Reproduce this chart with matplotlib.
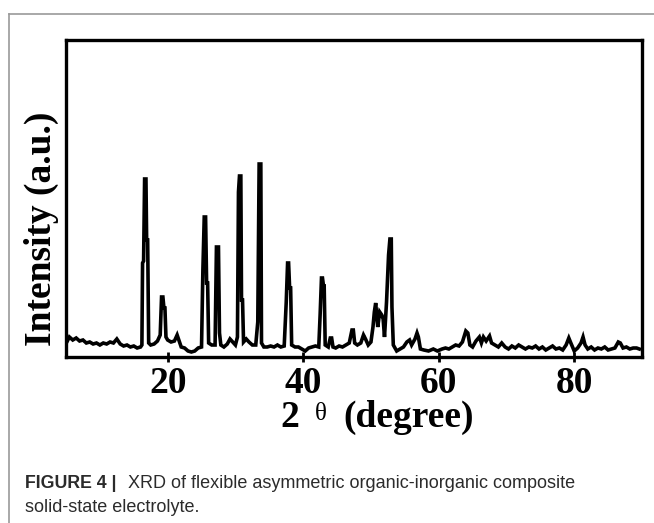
import matplotlib
matplotlib.use('Agg')
import matplotlib.pyplot as plt
from matplotlib.lines import Line2D
import numpy as np

# XRD pattern (intensity in arbitrary units)
two_theta = [5.2, 5.5, 6.0, 6.5, 7.0, 7.5, 8.0, 8.5, 9.0, 9.5, 10.0, 10.5, 11.0, 11.5,
             12.0, 12.5, 13.0, 13.5, 14.0, 14.5, 15.0, 15.5, 16.0, 16.2,
             16.3, 16.45, 16.6, 16.8, 16.9, 17.05, 17.2, 17.5, 18.0, 18.5, 18.9,
             19.1, 19.3, 19.45, 19.6, 19.75, 20.0, 20.5, 21.0, 21.4, 21.7, 22.0,
             22.5, 23.0, 23.5, 24.0, 24.5, 25.0, 25.2, 25.4, 25.6, 25.75, 25.9,
             26.05, 26.5, 27.0, 27.2, 27.5, 27.65, 27.85, 28.3, 28.8, 29.2, 29.6,
             30.0, 30.3, 30.45, 30.6, 30.8, 30.9, 31.05, 31.2, 31.6, 32.0, 32.5,
             33.0, 33.3, 33.5, 33.75, 33.85, 34.2, 34.7, 35.2, 35.7, 36.2, 36.7,
             37.2, 37.5, 37.7, 37.85, 38.0, 38.15, 38.3, 38.8, 39.3, 39.8, 40.3,
             40.8, 41.3, 41.8, 42.3, 42.5, 42.7, 42.85, 43.0, 43.1, 43.25, 43.7,
             44.0, 44.2, 44.4, 44.8, 45.3, 45.8, 46.3, 46.8, 47.2, 47.4, 47.6,
             48.0, 48.5, 48.9, 49.2, 49.6, 50.0, 50.3, 50.5, 50.7, 51.0, 51.3,
             51.6, 51.8, 52.0, 52.3, 52.6, 52.8, 53.0, 53.1, 53.3, 53.8, 54.3,
             54.8, 55.3, 55.7, 56.0, 56.5, 56.8, 57.0, 57.3, 57.8, 58.5, 59.2,
             59.8, 60.5, 61.0, 61.5, 62.0, 62.5, 63.0, 63.5, 64.0, 64.3, 64.6,
             65.0, 65.5, 66.0, 66.3, 66.6, 67.0, 67.5, 67.8, 68.3, 68.8, 69.3,
             69.8, 70.3, 70.8, 71.3, 71.8, 72.3, 72.8, 73.3, 73.8, 74.3, 74.8,
             75.3, 75.8, 76.3, 76.8, 77.3, 77.8, 78.3, 78.8, 79.2, 79.5, 80.0,
             80.5, 81.0, 81.3, 81.6, 82.0, 82.5, 83.0, 83.5, 84.0, 84.5, 85.0,
             85.5, 86.0, 86.5, 86.8, 87.2, 87.7, 88.2, 88.7, 89.2, 89.6]
intensity = [16, 20, 17, 19, 16, 17, 14, 15, 13, 14, 12, 14, 13, 15,
             14, 18, 13, 11, 12, 10, 11, 9, 10, 12,
             94, 96, 178, 178, 117, 117, 14, 12, 13, 16, 22,
             60, 60, 49, 49, 20, 17, 15, 16, 22, 16, 10,
             9, 6, 5, 6, 9, 10, 87, 140, 140, 74, 74,
             14, 12, 12, 110, 110, 24, 12, 10, 13, 18, 15,
             12, 20, 165, 181, 181, 57, 57, 15, 18, 15, 12,
             12, 35, 193, 193, 14, 10, 10, 11, 10, 12, 10,
             11, 55, 94, 94, 69, 69, 12, 10, 10, 8, 6,
             9, 10, 11, 10, 42, 79, 79, 71, 71, 12, 10,
             19, 19, 10, 9, 11, 10, 12, 14, 27, 27, 14,
             12, 14, 22, 18, 12, 15, 30, 45, 54, 30, 45,
             42, 38, 20, 55, 102, 118, 118, 50, 12, 6, 8,
             10, 15, 17, 12, 18, 24, 20, 8, 7, 6, 8,
             6, 8, 9, 8, 10, 12, 11, 15, 26, 24, 12,
             10, 16, 20, 14, 20, 16, 21, 14, 12, 10, 14,
             10, 8, 11, 9, 12, 10, 8, 10, 9, 11, 8,
             10, 7, 9, 11, 8, 9, 7, 12, 19, 14, 6,
             9, 14, 20, 12, 8, 10, 7, 9, 8, 10, 7,
             8, 9, 15, 14, 9, 10, 8, 9, 9, 8]

xticks = [20, 40, 60, 80]

W, H = 654, 523
fig = plt.figure(figsize=(W / 100, H / 100), dpi=100)

# page frame lines (grey) at top and left
fig.add_artist(Line2D([9 / W, 1], [1 - 14 / H, 1 - 14 / H], color='#9a9a9a', lw=1.2))
fig.add_artist(Line2D([9 / W, 9 / W], [0, 1 - 14 / H], color='#9a9a9a', lw=1.2))

ax = fig.add_axes([66 / W, 1 - 357 / H, (642 - 66) / W, (357 - 40) / H])
ax.plot(two_theta, intensity, color='black', lw=2.6, solid_joinstyle='miter')

ax.set_xlim(5, 90)
ax.set_ylim(0, 317)
ax.set_xticks(xticks)
ax.set_yticks([])
for s in ax.spines.values():
    s.set_linewidth(2.4)

serif = 'Liberation Serif'
ax.tick_params(axis='x', direction='inout', length=7, width=2, pad=3)
for lab in ax.get_xticklabels():
    lab.set_fontfamily(serif)
    lab.set_fontweight('bold')
    lab.set_fontsize(27)

ax.set_ylabel('Intensity (a.u.)', fontfamily=serif, fontweight='bold', fontsize=27)
ax.yaxis.set_label_coords(-0.012, 0.405)

# x label: "2 θ (degree)" with a smaller theta
fig.text(280 / W, 1 - 427 / H, '2', fontfamily=serif, fontweight='bold', fontsize=27,
         va='baseline', ha='left')
fig.text(315 / W, 1 - 420 / H, 'θ', fontfamily=serif, fontsize=18, va='baseline', ha='left')
fig.text(343 / W, 1 - 427 / H, '(degree)', fontfamily=serif, fontweight='bold', fontsize=27,
         va='baseline', ha='left')

# caption
cap = '#2b2b2b'
fig.text(25 / W, 1 - 488 / H, 'FIGURE 4 |', fontfamily='Liberation Sans', fontweight='bold',
         fontsize=12.8, color=cap, va='baseline')
fig.text(128 / W, 1 - 488 / H, 'XRD of flexible asymmetric organic-inorganic composite',
         fontfamily='Liberation Sans', fontsize=13, color=cap, va='baseline')
fig.text(25 / W, 1 - 512 / H, 'solid-state electrolyte.', fontfamily='Liberation Sans',
         fontsize=13, color=cap, va='baseline')

fig.savefig('out.png', dpi=100)
